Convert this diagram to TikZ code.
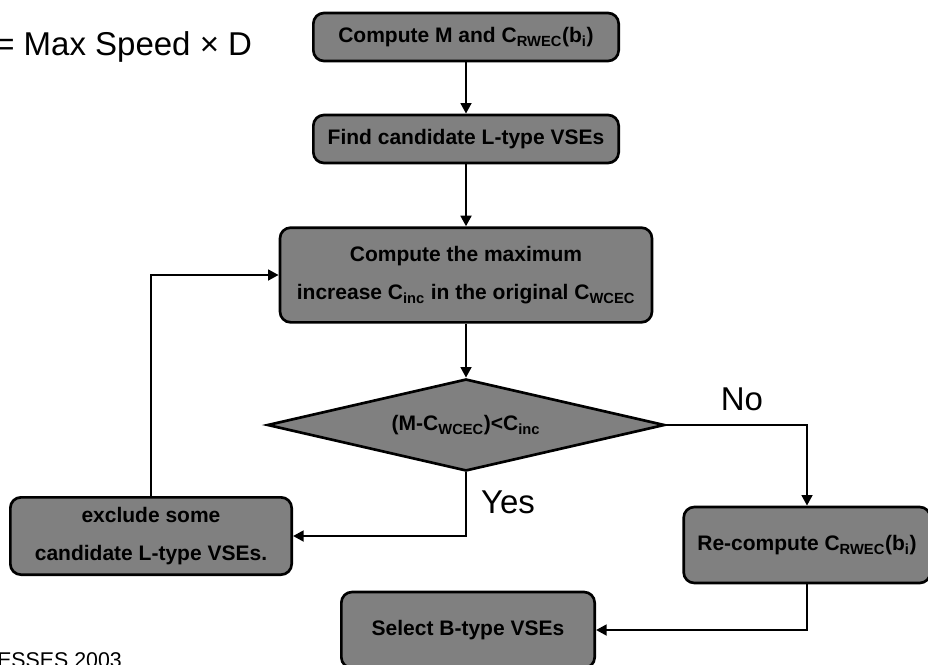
\documentclass[tikz,border=0pt]{standalone}
\usepackage{fontspec}
\setmainfont{Liberation Sans}
\usetikzlibrary{shapes.geometric,arrows.meta}

\definecolor{boxgray}{gray}{0.5}
\newcommand{\boxfont}{\bfseries\fontsize{15.75}{28.5}\selectfont}
\newcommand{\bigfont}{\fontsize{24.75}{28}\selectfont}

\tikzset{
  proc/.style={draw,line width=2pt,rounded corners=8pt,fill=boxgray,
    font=\boxfont,align=center,inner sep=0pt},
  decide/.style={draw,line width=2pt,diamond,aspect=4.3,fill=boxgray,font=\boxfont,
    inner sep=0pt,minimum width=298pt,minimum height=69pt},
  flow/.style={line width=2pt,-{Triangle[length=8pt,width=8pt]}},
  lbl/.style={font=\bigfont,inner sep=0pt}
}

\begin{document}
\begin{tikzpicture}[x=0.75pt,y=-0.75pt]
\useasboundingbox (0,0) rectangle (928,664);

\node[lbl,anchor=base west] (eq) at (-5,55) {= Max Speed × D};
\node[lbl,anchor=base west,font=\fontsize{16}{18}\selectfont] (conf) at (-3,667) {ESSES 2003};

% the steps
\node[proc,minimum width=229pt,minimum height=36pt] (comp) at (466,37)
  {Compute M and C\textsubscript{RWEC}(b\textsubscript{i})};
\node[proc,minimum width=229pt,minimum height=36pt] (findl) at (466,139)
  {Find candidate L-type VSEs};
\node[proc,minimum width=279pt,minimum height=71pt] (maxinc) at (466,275)
  {Compute the maximum\\increase C\textsubscript{inc} in the original C\textsubscript{WCEC}};
\node[decide] (test) at (466,425)
  {(M-C\textsubscript{WCEC})<C\textsubscript{inc}};
\node[proc,minimum width=211pt,minimum height=58pt] (excl) at (151,536)
  {exclude some\\candidate L-type VSEs.};
\node[proc,minimum width=185pt,minimum height=57pt] (recomp) at (807,545)
  {Re-compute C\textsubscript{RWEC}(b\textsubscript{i})};
\node[proc,minimum width=190pt,minimum height=57pt] (selb) at (468,630)
  {Select B-type VSEs};

\node[lbl] (no) at (742,399) {No};
\node[lbl] (yes) at (508,502) {Yes};

% connectors
\draw[flow] (comp) -- (findl);
\draw[flow] (findl) -- (maxinc);
\draw[flow] (maxinc) -- (test);
\draw[flow] (test.east) -| (recomp.north);
\draw[flow] (test.south) |- (excl.east);
\draw[flow] (excl.north) |- (maxinc.west);
\draw[flow] (recomp.south) |- (selb.east);
\end{tikzpicture}
\end{document}
